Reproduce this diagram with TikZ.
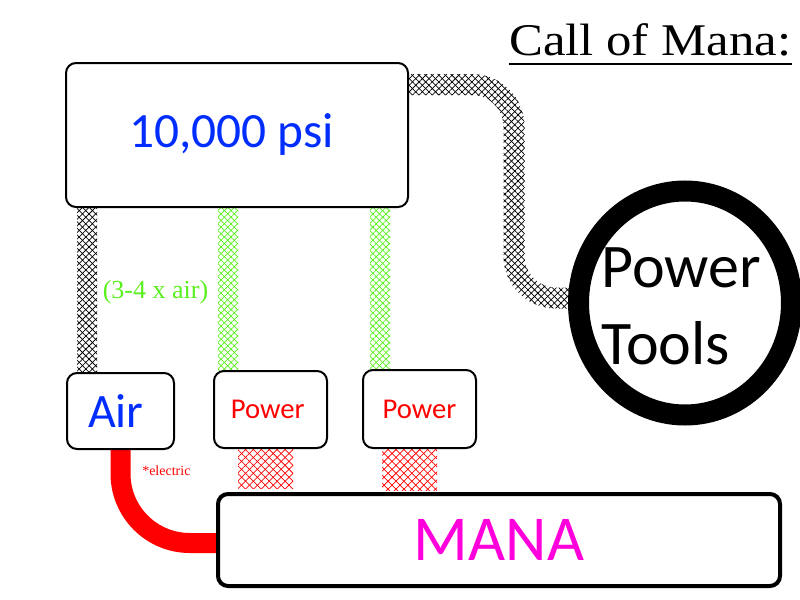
\documentclass[tikz,border=0pt]{standalone}
\usepackage{fontspec}
\setmainfont{Liberation Serif}
\newfontfamily\calib{Carlito}
\newfontfamily\titlefont[FakeStretch=1.12]{Liberation Serif}
\usetikzlibrary{shapes.geometric,patterns.meta}
\definecolor{psiblue}{RGB}{0,45,255}
\definecolor{manapink}{RGB}{255,0,220}
\definecolor{hosegreen}{RGB}{90,240,30}
\definecolor{hosered}{RGB}{255,0,0}
\begin{document}
\begin{tikzpicture}[x=0.75pt,y=-0.75pt,
  box/.style={draw=black, fill=white, line width=1.5pt, rounded corners=7.5pt, inner sep=0pt},
  hosehatch/.style 2 args={preaction={fill=white},
    pattern={Lines[angle=45,distance=#2,line width=0.55pt]}, pattern color=#1,
    postaction={pattern={Lines[angle=-45,distance=#2,line width=0.55pt]}, pattern color=#1}},
  smalltext/.style={font=\fontsize{#1}{#1}\selectfont, inner sep=0pt},
]
\useasboundingbox[fill=white] (0,0) rectangle (800,600);

% node positions (drawn later, needed for hoses)
\path (237,135) node[minimum width=256.5pt, minimum height=108pt, outer sep=0.75pt, inner sep=0pt] (top) {}
      (120.5,411) node[minimum width=80.25pt, minimum height=57pt, outer sep=0.75pt, inner sep=0pt] (air) {}
      (270.5,409.5) node[minimum width=84.75pt, minimum height=57.75pt, outer sep=0.75pt, inner sep=0pt] (p1) {}
      (419.5,409) node[minimum width=84.75pt, minimum height=58.5pt, outer sep=0.75pt, inner sep=0pt] (p2) {}
      (499,540) node[minimum width=421.5pt, minimum height=69pt, outer sep=1.5pt, inner sep=0pt] (mana) {};

% hoses
\path[hosehatch={black}{3.5pt}] (77,0 |- top.south) rectangle (97,0 |- air.north);
\path[hosehatch={hosegreen}{3.5pt}] (218,0 |- top.south) rectangle (238,0 |- p1.north);
\path[hosehatch={hosegreen}{3.5pt}] (370,0 |- top.south) rectangle (390,0 |- p2.north);
\path[hosehatch={hosered}{4.2pt}] (238,0 |- p1.south) rectangle (293,488);
\path[hosehatch={hosered}{4.2pt}] (382,0 |- p2.south) rectangle (437,490);

\path[hosehatch={black}{3.5pt}]
  (400,74) -- (472,74) .. controls (501,74) and (524.5,97.5) .. (524.5,126.5)
  -- (524.5,256) .. controls (524.5,273.4) and (538.6,287.5) .. (556,287.5)
  -- (578,287.5) -- (578,308.5) -- (556,308.5)
  .. controls (527,308.5) and (503.5,285) .. (503.5,256)
  -- (503.5,126.5) .. controls (503.5,109.1) and (489.4,95) .. (472,95)
  -- (400,95) -- cycle;

% electric line
\draw[hosered, line width=15pt, rounded corners=52pt] ([yshift=3pt]air.south) |- ([yshift=-2.25pt]mana.west);

% boxes
\node[box, minimum width=256.5pt, minimum height=108pt, font=\calib\fontsize{37pt}{40pt}\selectfont, text=psiblue] at (top) {10,000 psi\kern 8pt};
\node[box, minimum width=80.25pt, minimum height=57pt, font=\calib\fontsize{36pt}{40pt}\selectfont, text=psiblue] at (air) {Air\kern 7pt};
\node[box, minimum width=84.75pt, minimum height=57.75pt, font=\calib\fontsize{21.5pt}{24pt}\selectfont, text=hosered] at (p1) {Power\kern 4pt};
\node[box, minimum width=84.75pt, minimum height=58.5pt, font=\calib\fontsize{21.5pt}{24pt}\selectfont, text=hosered] at (p2) {Power};
\node[box, line width=3pt, minimum width=421.5pt, minimum height=69pt, font=\calib\fontsize{48pt}{52pt}\selectfont, text=manapink] at (mana) {MANA};

% power tools
\node[ellipse, draw=black, line width=15.75pt, minimum width=159.75pt, minimum height=168pt, inner sep=0pt] (tools) at (685,303) {};
\node[align=left, inner sep=0pt, font=\calib\fontsize{46.5pt}{57.75pt}\selectfont] (toolstext) at (681,306.5) {Power\\Tools};

% labels
\node[text=hosegreen, smalltext=19.5pt] (ratio) at (155.5,292) {(3-4 x air)};
\node[text=hosered, smalltext=10.5pt, anchor=base west] (elec) at (142,475) {*electric};

% title
\node[font=\titlefont\fontsize{34pt}{40pt}\selectfont, anchor=base west, inner sep=0pt] (title) at (509,55) {Call of Mana:};
\draw[line width=1.5pt] ([yshift=-6.75pt]title.base west) -- ([yshift=-6.75pt]title.base east);
\end{tikzpicture}
\end{document}
